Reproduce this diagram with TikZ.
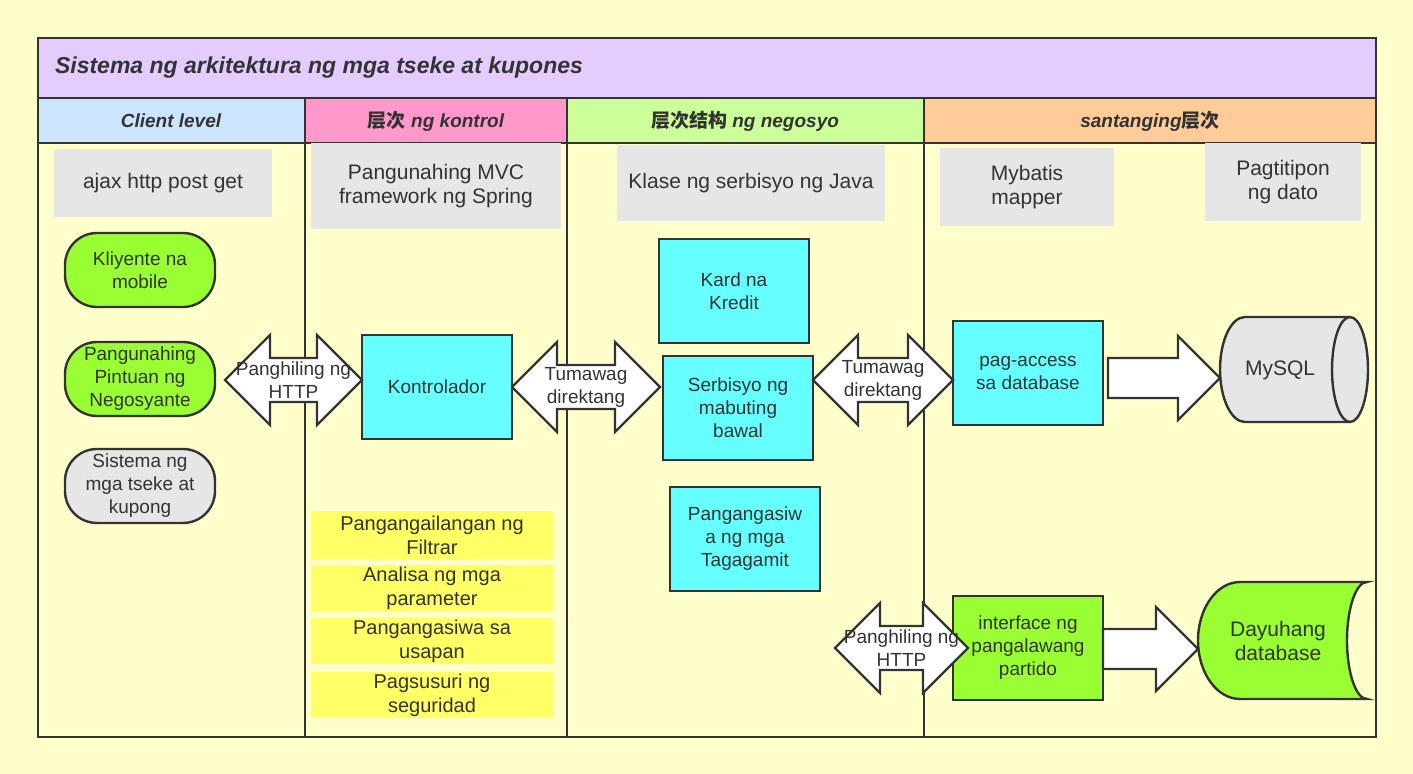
\documentclass[tikz,border=0pt]{standalone}
\usepackage{fontspec}
\setmainfont{Liberation Sans}
\newfontfamily\cjk{Noto Sans CJK SC}
\usetikzlibrary{positioning, calc}
\definecolor{bgyellow}{HTML}{FFFFCC}
\definecolor{titlepurple}{HTML}{E5CCFF}
\definecolor{hdblue}{HTML}{CCE5FF}
\definecolor{hdpink}{HTML}{FF99CC}
\definecolor{hdgreen}{HTML}{CCFF99}
\definecolor{hdorange}{HTML}{FFCC99}
\definecolor{boxgray}{HTML}{E6E6E6}
\definecolor{boxcyan}{HTML}{66FFFF}
\definecolor{boxlime}{HTML}{99FF33}
\definecolor{boxyellow}{HTML}{FFFF66}
\definecolor{linedark}{HTML}{333333}

\begin{document}
\begin{tikzpicture}[
  x=0.5pt, y=-0.5pt,
  every node/.style={font=\fontsize{9.5}{11.5}\selectfont, text=linedark, align=center},
  lane/.style={draw=linedark, line width=1.2pt},
  header/.style={font=\fontsize{9.5}{11}\selectfont\bfseries\itshape},
  note/.style={fill=boxgray, inner sep=0pt, font=\fontsize{10.5}{12}\selectfont},
  client/.style={draw=linedark, line width=1.2pt, rounded corners=16pt, fill=boxlime, inner sep=0pt},
  module/.style={draw=linedark, line width=1.2pt, fill=boxcyan, inner sep=0pt},
  filter/.style={fill=boxyellow, inner sep=0pt, font=\fontsize{10}{12}\selectfont},
  bigarrow/.style={draw=linedark, line width=1.2pt, fill=white, line join=miter},
]
%canvas
\useasboundingbox (0,0) rectangle (1413,774);
\fill[bgyellow] (0,0) rectangle (1413,774);

%title and lanes
\draw[lane, fill=titlepurple] (38,38) rectangle (1376,98);
\node[anchor=west, font=\fontsize{11.5}{13}\selectfont\bfseries\itshape] (title) at (48,68) {Sistema ng arkitektura ng mga tseke at kupones};
\draw[lane, fill=hdblue]   (38,98)  rectangle (305,143);
\draw[lane, fill=hdpink]   (305,98) rectangle (567,143);
\draw[lane, fill=hdgreen]  (567,98) rectangle (924,143);
\draw[lane, fill=hdorange] (924,98) rectangle (1376,143);
\node[header] (hclient)  at (171,121) {Client level};
\node[header] (hcontrol) at (436,121) {{\cjk 层次} ng kontrol};
\node[header] (hbiz)     at (745,121) {{\cjk 层次结构} ng negosyo};
\node[header] (hdata)    at (1150,121) {santanging{\cjk 层次}};
\draw[lane] (38,143) rectangle (1376,737);
\foreach \x in {305,567,924} \draw[lane] (\x,143) -- (\x,737);

%gray notes
\node[note, minimum width=109pt, minimum height=34pt] (ajax) at (163,183) {ajax http post get};
\node[note, minimum width=125pt, minimum height=43pt] (mvc) at (436,186) {Pangunahing MVC\\framework ng Spring};
\node[note, minimum width=134pt, minimum height=38pt] (java) at (751,183) {Klase ng serbisyo ng Java};
\node[note, minimum width=87pt, minimum height=39pt] (mybatis) at (1027,187) {Mybatis\\mapper};
\node[note, minimum width=78pt, minimum height=39pt] (collect) at (1283,182) {Pagtitipon\\ng dato};

%client column
\node[client, minimum width=75pt, minimum height=37pt] (mobile) at (140,270) {Kliyente na\\mobile};
\node[client, minimum width=75pt, minimum height=37pt] (portal) at (140,379) {Pangunahing\\Pintuan ng\\Negosyante};
\node[client, fill=boxgray, minimum width=75pt, minimum height=37pt] (checksys) at (140,486) {Sistema ng\\mga tseke at\\kupong};

%control column
\node[module, minimum width=75pt, minimum height=52pt] (ctrl) at (437,387) {Kontrolador};
\node[filter, minimum width=121pt, minimum height=24pt] (f1) at (432,535) {Pangangailangan ng\\Filtrar};
\node[filter, minimum width=121pt, minimum height=23pt] (f2) at (432,588) {Analisa ng mga\\parameter};
\node[filter, minimum width=121pt, minimum height=23pt] (f3) at (432,641) {Pangangasiwa sa\\usapan};
\node[filter, minimum width=121pt, minimum height=23pt] (f4) at (432,695) {Pagsusuri ng\\seguridad};

%business column
\node[module, minimum width=75pt, minimum height=52pt] (credit) at (734,291) {Kard na\\Kredit};
\node[module, minimum width=75pt, minimum height=52pt] (goods) at (738,408) {Serbisyo ng\\mabuting\\bawal};
\node[module, minimum width=75pt, minimum height=52pt] (users) at (745,539) {Pangangasiw\\a ng mga\\Tagagamit};

%data column
\node[module, minimum width=75pt, minimum height=52pt] (dao) at (1028,373) {pag-access\\sa database};
\node[module, fill=boxlime, minimum width=75pt, minimum height=52pt] (third) at (1028,648) {interface ng\\pangalawang\\partido};

%MySQL cylinder
\draw[bigarrow, fill=boxgray] (1245,317) -- (1350,317) arc[start angle=-90, end angle=90, x radius=18, y radius=52.5]
  -- (1245,422) arc[start angle=90, end angle=270, x radius=25, y radius=52.5] -- cycle;
\draw[lane] (1350,317) arc[start angle=-90, end angle=-270, x radius=18, y radius=52.5];
\node[font=\fontsize{10.5}{12}\selectfont] (mysql) at (1280,370) {MySQL};

%external store
\draw[bigarrow, fill=boxlime] (1240,582) -- (1367,582) arc[start angle=-90, end angle=-270, x radius=20, y radius=58.5]
  -- (1240,699) arc[start angle=90, end angle=270, x radius=42, y radius=58.5] -- cycle;
\node[font=\fontsize{10.5}{12}\selectfont] (extdb) at (1278,641) {Dayuhang\\database};

%double arrows
\foreach \xa/\xb/\ym/\nm in {225/362/380/httpA, 512/660/387/callA, 813/953/380/callB, 835/968/648/httpB}{
  \draw[bigarrow] (\xa,\ym) -- (\xa+45,\ym-45) -- (\xa+45,\ym-22) -- (\xb-45,\ym-22) -- (\xb-45,\ym-45)
    -- (\xb,\ym) -- (\xb-45,\ym+45) -- (\xb-45,\ym+22) -- (\xa+45,\ym+22) -- (\xa+45,\ym+45) -- cycle;
  \coordinate (\nm) at ({(\xa+\xb)/2},\ym);
}
\node at (httpA) {Panghiling ng\\HTTP};
\node at (callA) {Tumawag\\direktang};
\node at (callB) {Tumawag\\direktang};
\node at (httpB) {Panghiling ng\\HTTP};

%single arrows
\foreach \xa/\xb/\ym in {1108/1220/378, 1103/1198/649}{
  \draw[bigarrow] (\xa,\ym-20) -- (\xb-42,\ym-20) -- (\xb-42,\ym-42) -- (\xb,\ym)
    -- (\xb-42,\ym+42) -- (\xb-42,\ym+20) -- (\xa,\ym+20) -- cycle;
}
\end{tikzpicture}
\end{document}
